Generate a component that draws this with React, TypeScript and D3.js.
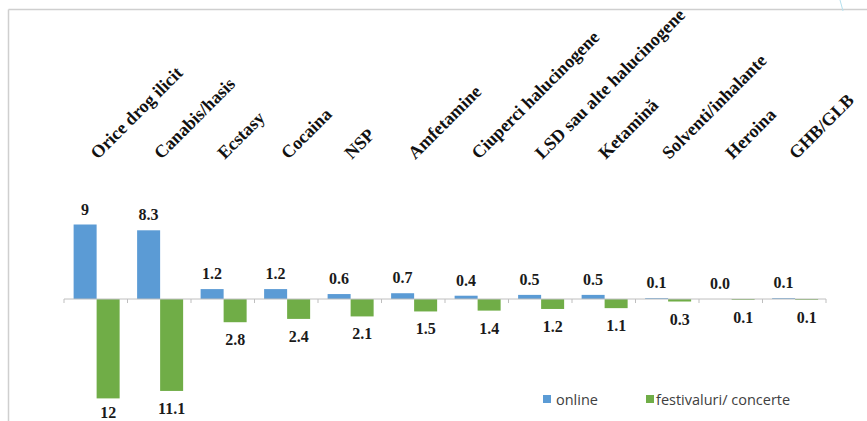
import React from "react";
import * as d3 from "d3";

const categories = [
  "Orice drog ilicit",
  "Canabis/hasis",
  "Ecstasy",
  "Cocaina",
  "NSP",
  "Amfetamine",
  "Ciuperci halucinogene",
  "LSD sau alte halucinogene",
  "Ketamină",
  "Solventi/inhalante",
  "Heroina",
  "GHB/GLB",
];
const online = [9, 8.3, 1.2, 1.2, 0.6, 0.7, 0.4, 0.5, 0.5, 0.1, 0.0, 0.1];
const festival = [12, 11.1, 2.8, 2.4, 2.1, 1.5, 1.4, 1.2, 1.1, 0.3, 0.1, 0.1];
const seriesNames = ["online", "festivaluri/ concerte"];
const colors = ["#5B9BD5", "#70AD47"];

const W = 867;
const H = 421;

const fmt = (v: number) => (v >= 1 && Number.isInteger(v) ? String(v) : v.toFixed(1));

export default function App() {
  const x0 = d3.scaleBand<string>().domain(categories).range([64, 826]).padding(0);
  const x1 = d3
    .scaleBand<string>()
    .domain(seriesNames)
    .range([0, x0.bandwidth()])
    .paddingOuter(0.38)
    .paddingInner(0)
    .align(0.55);
  const y = d3.scaleLinear().domain([-12, 9]).range([398.4, 224.5]);
  const y0 = y(0);
  const serif = "'Liberation Serif', 'Times New Roman', serif";
  const sans = "'Open Sans', sans-serif";
  const boundaries = categories.map((c) => x0(c)!).concat([x0.range()[1]]);

  return (
    <svg
      width={W}
      height={H}
      style={{ position: "absolute", left: 0, top: 0, background: "#fff" }}
    >
      <rect x={0} y={0} width={W} height={H} fill="#fff" />
      {/* frame */}
      <line x1={8.5} y1={9.5} x2={W} y2={9.5} stroke="#cfcfcf" strokeWidth={1.5} />
      <line x1={8.5} y1={9.5} x2={8.5} y2={H} stroke="#cfcfcf" strokeWidth={1.5} />
      <line x1={840} y1={0} x2={843} y2={11} stroke="#b5e0ee" strokeWidth={1} />

      {/* bars */}
      {categories.map((c, i) => {
        const bx = x0(c)!;
        const ob = bx + x1(seriesNames[0])!;
        const fb = bx + x1(seriesNames[1])!;
        const bw = x1.bandwidth();
        const oTop = y(online[i]);
        const fBot = y(-festival[i]);
        return (
          <g key={c}>
            <rect x={ob} y={oTop} width={bw} height={y0 - oTop} fill={colors[0]} />
            <rect x={fb} y={y0} width={bw} height={fBot - y0} fill={colors[1]} />
            <text
              x={ob + bw / 2}
              y={oTop - 10}
              textAnchor="middle"
              fontFamily={serif}
              fontWeight="bold"
              fontSize={16}
              fill="#1a1a1a"
            >
              {fmt(online[i])}
            </text>
            <text
              x={fb + bw / 2}
              y={Math.min(fBot + 23, 418)}
              textAnchor="middle"
              fontFamily={serif}
              fontWeight="bold"
              fontSize={16}
              fill="#1a1a1a"
            >
              {fmt(festival[i])}
            </text>
            <text
              transform={`translate(${bx + x0.bandwidth() / 2 + 2},160) rotate(-45)`}
              fontFamily={serif}
              fontWeight="bold"
              fontSize={18}
              fill="#111"
            >
              {c}
            </text>
          </g>
        );
      })}

      {/* axis */}
      <line x1={x0.range()[0]} y1={y0} x2={x0.range()[1]} y2={y0} stroke="#bfbfbf" strokeWidth={1} />
      {boundaries.map((b, i) => (
        <line key={i} x1={b} y1={y0} x2={b} y2={y0 + 4} stroke="#bfbfbf" strokeWidth={1} />
      ))}

      {/* legend */}
      <rect x={543} y={395} width={8} height={8} fill={colors[0]} />
      <text x={556} y={405} fontFamily={sans} fontSize={14.5} fill="#404040">
        {seriesNames[0]}
      </text>
      <rect x={646} y={395} width={8} height={8} fill={colors[1]} />
      <text x={656} y={405} fontFamily={sans} fontSize={14.5} fill="#404040">
        {seriesNames[1]}
      </text>
    </svg>
  );
}
